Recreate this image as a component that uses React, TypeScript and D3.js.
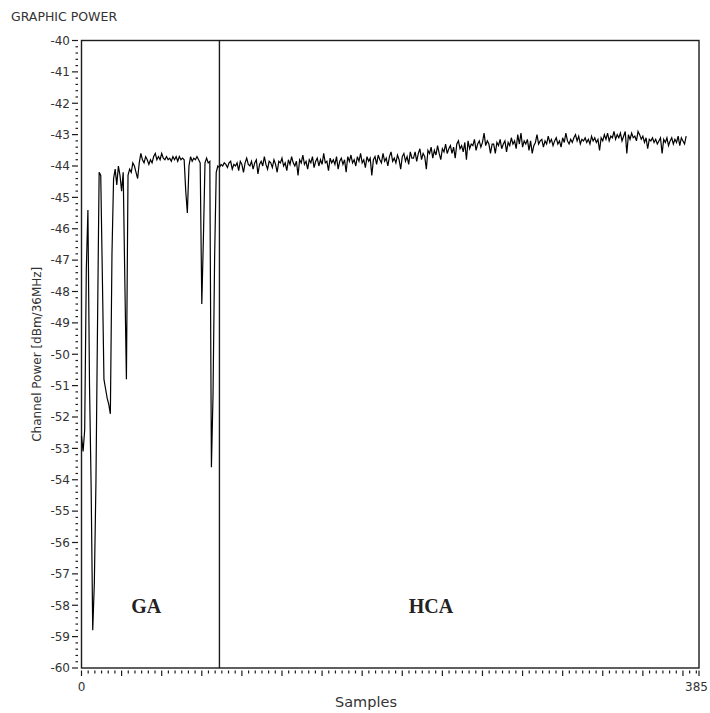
import React from "react";
import * as d3 from "d3";

// channel power per sample (dBm/36MHz)
const power: number[] = [
  // 0-29: GA region with deep fades
  -52.6, -53.1, -52.4, -47.3, -45.4, -51.0, -54.2, -58.8, -57.3, -54.1,
  -49.0, -44.2, -44.3, -47.5, -50.8, -51.1, -51.4, -51.6, -51.9, -46.8,
  -44.4, -44.1, -44.6, -44.0, -44.3, -44.8, -44.2, -47.6, -50.8, -44.3,
  // 30-86
  -44.1, -44.2, -43.9, -44.0, -44.2, -44.4, -43.9, -43.6, -43.8, -43.9,
  -43.7, -43.8, -43.95, -43.8, -43.9, -43.7, -43.6, -43.8, -43.7, -43.8,
  -43.6, -43.75, -43.8, -43.7, -43.8, -43.75, -43.85, -43.7, -43.8, -43.7,
  -43.85, -43.7, -43.8, -43.75, -43.8, -44.8, -45.5, -44.0, -43.7, -43.85,
  -43.75, -43.8, -43.7, -43.8, -43.9, -48.4, -46.3, -43.9, -43.75, -43.9,
  -43.85, -53.6, -51.3, -46.9, -44.2, -44.0, -44.05,
  // 87-206: HCA region
  -43.95, -44.0, -43.9, -43.95, -44.05, -43.9, -43.85, -44.1, -43.95, -44.0,
  -43.9, -44.15, -43.85, -43.95, -44.2, -43.9, -43.75, -43.95, -44.0, -43.85,
  -44.1, -43.9, -43.8, -44.25, -43.95, -43.85, -44.0, -43.7, -43.95, -44.1,
  -43.85, -43.9, -44.05, -43.8, -43.95, -44.2, -43.85, -43.9, -43.75, -44.0,
  -43.9, -44.15, -43.8, -43.95, -43.7, -43.9, -44.0, -43.85, -44.3, -43.8,
  -43.9, -43.65, -43.95, -43.85, -44.1, -43.8, -43.9, -43.7, -44.05, -43.85,
  -43.75, -44.0, -43.8, -43.95, -43.6, -43.9, -43.85, -44.15, -43.75, -43.9,
  -43.8, -43.95, -43.7, -44.1, -43.85, -43.75, -43.95, -43.8, -44.2, -43.7,
  -43.85, -43.65, -43.9, -43.8, -44.0, -43.7, -43.85, -43.6, -43.9, -43.8,
  -44.05, -43.7, -43.85, -43.75, -44.3, -43.8, -43.7, -43.95, -43.65, -43.8,
  -43.9, -43.6, -43.85, -43.75, -44.0, -43.7, -43.55, -43.85, -43.75, -43.9,
  -43.65, -43.8, -44.1, -43.7, -43.6, -43.85, -43.7, -43.95, -43.55, -43.75,
  // 207-256
  -43.75, -43.55, -43.85, -43.6, -43.45, -43.8, -43.6, -43.7, -44.1, -43.5,
  -43.6, -43.4, -43.75, -43.5, -43.65, -43.35, -43.6, -43.8, -43.45, -43.55,
  -43.3, -43.6, -43.45, -43.35, -43.6, -43.4, -43.75, -43.3, -43.2, -43.45,
  -43.35, -43.55, -43.25, -43.8, -43.2, -43.45, -43.3, -43.35, -43.15, -43.5,
  -43.3, -43.2, -43.4, -43.25, -42.95, -43.35, -43.2, -43.3, -43.6, -43.3,
  // 257-377
  -43.3, -43.6, -43.25, -43.35, -43.15, -43.45, -43.3, -43.2, -43.55, -43.25,
  -43.35, -43.1, -43.3, -43.2, -43.45, -43.0, -43.3, -42.95, -43.4, -43.2,
  -43.3, -43.15, -43.5, -43.2, -43.6, -43.35, -43.25, -43.0, -43.3, -43.2,
  -43.15, -43.4, -43.2, -43.3, -43.05, -43.25, -43.15, -43.35, -43.2, -43.1,
  -43.3, -43.2, -43.4, -43.1, -43.25, -42.95, -43.2, -43.3, -43.15, -43.25,
  -43.1, -43.0, -43.2, -43.05, -43.3, -43.15, -43.2, -43.1, -43.25, -43.15,
  -43.3, -43.05, -43.2, -43.1, -43.25, -43.15, -43.5, -43.1, -43.2, -43.0,
  -43.15, -42.95, -43.2, -43.05, -43.1, -42.9, -43.15, -43.0, -43.1, -42.95,
  -43.2, -43.05, -42.9, -43.6, -43.0, -43.15, -42.95, -43.1, -43.05, -43.2,
  -42.9, -43.0, -43.15, -43.05, -43.25, -43.1, -43.45, -43.15, -43.2, -43.1,
  -43.25, -43.15, -43.3, -43.2, -43.1, -43.6, -43.15, -43.25, -43.1, -43.35,
  -43.2, -43.1, -43.3, -43.15, -43.25, -43.05, -43.35, -43.1, -43.2, -43.3,
  -43.05,
];

const yTickValues = [-40, -41, -42, -43, -44, -45, -46, -47, -48, -49, -50, -51, -52, -53, -54, -55, -56, -57, -58, -59, -60];
const xTickLabels = [0, 385];
const xMajorTicks = [0, 25, 50, 75, 100, 125, 150, 175, 200, 225, 250, 275, 300, 325, 350, 375, 385];
const boundarySample = 86;
const regionLabels = [
  { text: "GA", sample: 31 },
  { text: "HCA", sample: 204 },
];

const W = 710;
const H = 713;
const left = 81.5;
const right = 699;
const top = 40.5;
const bottom = 668;
const ink = "#1c1c1c";
const font = "'DejaVu Sans', Verdana, sans-serif";

export default function App() {
  const x = d3.scaleLinear().domain([0, 385]).range([left, right]);
  const y = d3.scaleLinear().domain([-60, -40]).range([bottom, top]);

  const line = d3
    .line<number>()
    .x((_, i) => x(i))
    .y((d) => y(d));

  const yMinor = d3.range(-60, -40, 0.2).filter((v) => Math.abs(v - Math.round(v)) > 0.01);
  const xMinor: number[] = [];
  for (let s = 0; s < 385; s += 25 / 6) {
    if (Math.abs(s / 25 - Math.round(s / 25)) > 0.01) xMinor.push(s);
  }

  return (
    <svg
      width={W}
      height={H}
      style={{ position: "absolute", left: 0, top: 0, background: "#fff" }}
    >
      <text x={11} y={21} fontFamily={font} fontSize={12.5} fill="#333">
        GRAPHIC POWER
      </text>

      {/* y axis ticks */}
      {yTickValues.map((v) => (
        <g key={v}>
          <line x1={72} x2={78} y1={y(v)} y2={y(v)} stroke={ink} strokeWidth={1.2} />
          <text
            x={70}
            y={y(v)}
            dy="0.36em"
            textAnchor="end"
            fontFamily={font}
            fontSize={12}
            fill="#333"
          >
            {v}
          </text>
        </g>
      ))}
      {yMinor.map((v, i) => (
        <line key={i} x1={75.5} x2={78} y1={y(v)} y2={y(v)} stroke={ink} strokeWidth={1.2} />
      ))}

      {/* x axis ticks */}
      {xMajorTicks.map((s) => (
        <line key={s} x1={x(s)} x2={x(s)} y1={670.5} y2={676} stroke={ink} strokeWidth={1.2} />
      ))}
      {xMinor.map((s, i) => (
        <line key={i} x1={x(s)} x2={x(s)} y1={670.5} y2={673.5} stroke={ink} strokeWidth={1.2} />
      ))}
      {xTickLabels.map((s) => (
        <text
          key={s}
          x={s === 385 ? x(s) + 9 : x(s)}
          y={691}
          textAnchor={s === 385 ? "end" : "middle"}
          fontFamily={font}
          fontSize={12}
          fill="#333"
        >
          {s}
        </text>
      ))}

      <text x={366} y={707} textAnchor="middle" fontFamily={font} fontSize={14.5} fill="#333">
        Samples
      </text>
      <text
        transform={`translate(41,${(top + bottom) / 2}) rotate(-90)`}
        textAnchor="middle"
        fontFamily={font}
        fontSize={12}
        fill="#333"
      >
        Channel Power [dBm/36MHz]
      </text>

      {/* plot frame */}
      <rect
        x={left}
        y={top}
        width={right - left}
        height={bottom - top}
        fill="none"
        stroke={ink}
        strokeWidth={1.4}
      />

      <path d={line(power) ?? ""} fill="none" stroke="#000" strokeWidth={1.2} strokeLinejoin="miter" />

      <line
        x1={x(boundarySample)}
        x2={x(boundarySample)}
        y1={top}
        y2={bottom}
        stroke={ink}
        strokeWidth={1.4}
      />

      {regionLabels.map((r) => (
        <text
          key={r.text}
          x={x(r.sample)}
          y={613}
          fontFamily="'Liberation Serif', 'Times New Roman', serif"
          fontWeight="bold"
          fontSize={20}
          fill="#222"
        >
          {r.text}
        </text>
      ))}
    </svg>
  );
}
